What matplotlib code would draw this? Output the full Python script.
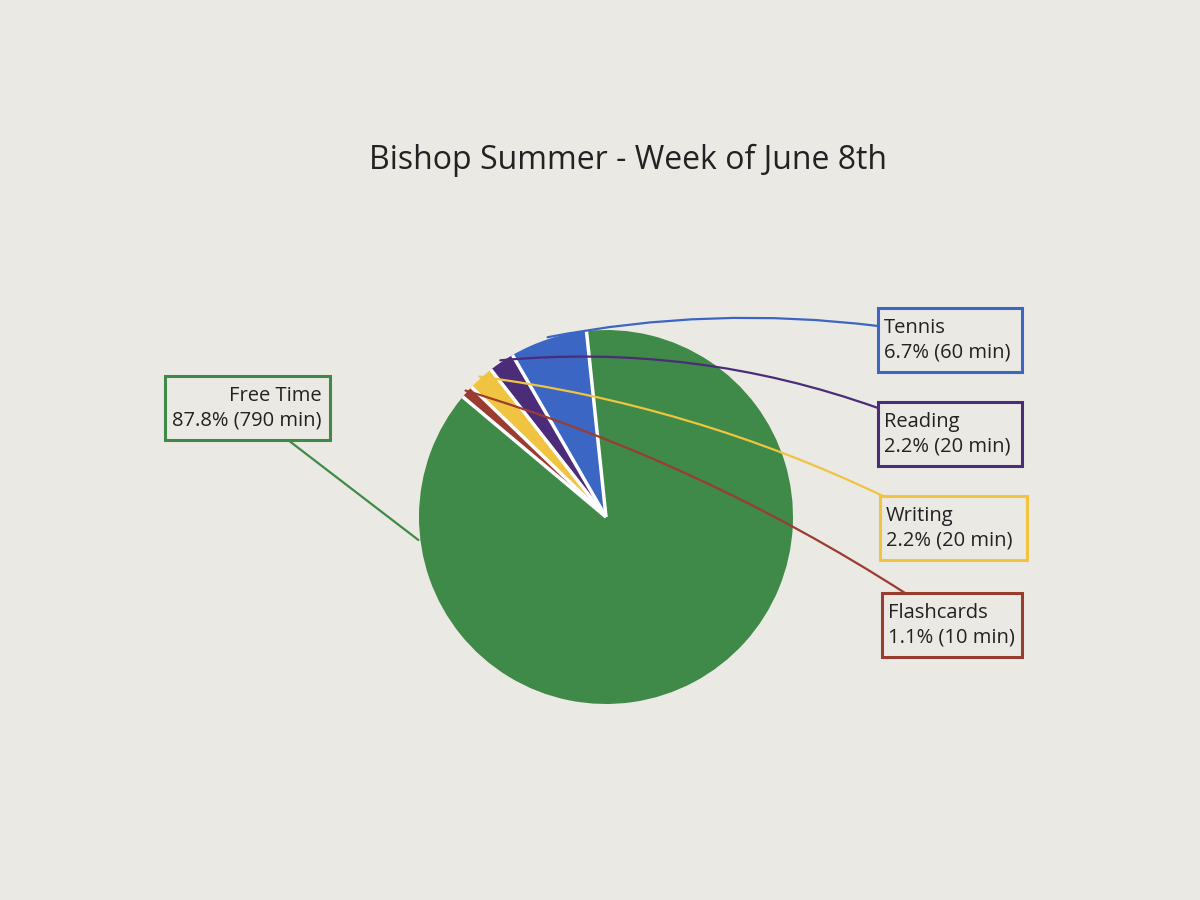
import numpy as np
import matplotlib.pyplot as plt
from matplotlib.patches import Rectangle

# chart data (minutes per activity, in drawing order)
activities = ["Free Time", "Flashcards", "Writing", "Reading", "Tennis"]
minutes = [790, 10, 20, 20, 60]
colors = ["#3f8a48", "#9b3c31", "#f0c340", "#4b2c78", "#3b66c3"]

title = "Bishop Summer - Week of June 8th"
paper = "#ebe9e4"

# layout in pixel space (y measured from top)
cx, cy, r = 606, 517, 187
start = 96
boxes = {
    "Tennis": (878, 308, 144, 64),
    "Reading": (878, 402, 144, 64),
    "Writing": (880, 496, 147, 64),
    "Flashcards": (882, 593, 140, 64),
    "Free Time": (165, 376, 165, 64),
}
# where each leader line meets its box, and the curvature
ends = {
    "Tennis": (878, 326, 0.08),
    "Reading": (878, 408, 0.11),
    "Writing": (885, 497, 0.08),
    "Flashcards": (905, 593, 0.07),
    "Free Time": (288, 440, 0.0),
}
start_ang = {"Free Time": 187}

plt.rcParams['font.family'] = ['Open Sans', 'DejaVu Sans']
fig = plt.figure(figsize=(12, 9), dpi=100, facecolor=paper)
ax = fig.add_axes([0, 0, 1, 1])

def Y(y):
    return 900 - y

wedges, _ = ax.pie(minutes, colors=colors, startangle=start, counterclock=False,
                   center=(cx, Y(cy)), radius=r, frame=True,
                   wedgeprops=dict(linewidth=0))
ax.set_xlim(0, 1200)
ax.set_ylim(0, 900)
ax.set_aspect('equal')
ax.axis('off')

# white separators between slices (radii only, no outer rim)
for w in wedges:
    a = np.radians(w.theta1)
    ax.plot([cx, cx + r * np.cos(a)], [Y(cy), Y(cy) + r * np.sin(a)],
            color='white', lw=2.5, solid_capstyle='butt', zorder=2)

ax.text(628, Y(160), title, ha='center', va='center', fontsize=23, color='#222222')

total = sum(minutes)
for w, name, m, c in zip(wedges, activities, minutes, colors):
    ang = start_ang.get(name, (w.theta1 + w.theta2) / 2)
    px = cx + (r + 2) * np.cos(np.radians(ang))
    py = Y(cy) + (r + 2) * np.sin(np.radians(ang))
    ex, ey, rad = ends[name]
    ax.annotate("", xy=(px, py), xytext=(ex, Y(ey)),
                arrowprops=dict(arrowstyle='-', color=c, lw=1.6,
                                connectionstyle=f"arc3,rad={rad}",
                                shrinkA=0, shrinkB=0), zorder=3)
    x0, y0, bw, bh = boxes[name]
    ax.add_patch(Rectangle((x0, Y(y0 + bh)), bw, bh, facecolor=paper,
                           edgecolor=c, linewidth=2.2, zorder=3))
    label = f"{name}\n{m / total * 100:.1f}% ({m} min)"
    if name == "Free Time":
        ax.text(x0 + bw - 8, Y(y0 + bh / 2), label, ha='right', va='center',
                fontsize=14.5, color='#222222', linespacing=1.3, zorder=4)
    else:
        ax.text(x0 + 6, Y(y0 + bh / 2), label, ha='left', va='center',
                fontsize=14.5, color='#222222', linespacing=1.3, zorder=4)

fig.savefig("out.png", dpi=100, facecolor=paper)
